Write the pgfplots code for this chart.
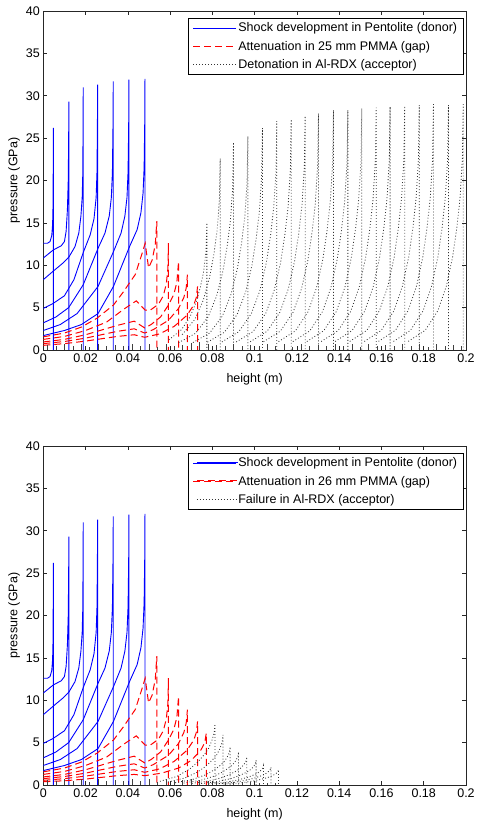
\documentclass[border=0pt]{standalone}
\usepackage{fontspec}
\setmainfont{Liberation Sans}
\usepackage{pgfplots}
\pgfplotsset{compat=1.18}

\newcommand{\mfont}{\fontsize{12.5bp}{15bp}\selectfont}

\pgfplotsset{
    donorL/.style={color=blue, line width=0.9bp},
    gapL/.style={color=red, line width=1bp, dash pattern=on 7bp off 4bp},
    accL/.style={color=black!80, line width=0.8bp, dash pattern=on 0.9bp off 2.1bp},
    donor/.style={donorL, forget plot},
    gap/.style={gapL, forget plot},
    acc/.style={accL, forget plot},
    resid/.style={ycomb, color=black!75, line width=0.6bp, forget plot},
    mlaxis/.style={
        scale only axis,
        width=422.7bp, height=339bp,
        xmin=0, xmax=0.2, ymin=0, ymax=40,
        xtick={0,0.02,0.04,0.06,0.08,0.1,0.12,0.14,0.16,0.18,0.2},
        ytick={0,5,10,15,20,25,30,35,40},
        scaled x ticks=false,
        xticklabel style={/pgf/number format/fixed, /pgf/number format/precision=2},
        /pgf/number format/assume math mode=true,
        tick label style={font=\mfont},
        label style={font=\mfont},
        tick align=inside,
        major tick length=4bp,
        axis line style={black!85, line width=0.5bp},
        every tick/.style={black!85, line width=0.5bp},
        legend style={
            at={(axis description cs:0.993,0.979)}, anchor=north east,
            draw=black, line width=0.5bp, fill=white,
            font=\mfont, inner xsep=4bp, inner ysep=0.5bp,
            nodes={inner xsep=1.6bp, inner ysep=3.9bp},
            cells={anchor=west}
        },
        legend image code/.code={\draw[#1] (0bp,0bp) -- (43bp,0bp);},
        clip=true
    },
    labelled/.style={
        xlabel={height (m)},
        ylabel={pressure (GPa)},
        xlabel style={at={(axis description cs:0.5,-0.085)}, anchor=center},
        ylabel style={at={(axis description cs:-0.069,0.5)}, anchor=center}
    }
}

% pressure profiles in the pentolite donor (blue)
\newcommand{\donorcurves}{%
\addplot[donorL] coordinates {(0,12.6)(0.002,12.6)(0.0032,12.8)(0.004,13.5)(0.0044,14.8)(0.0046,17)(0.0047,21.5)(0.0048,26.2)(0.0048,0)};
\addplot[donor] coordinates {(0,10.85)(0.0047,11.8)(0.0085,12.3)(0.0100,12.8)(0.0108,14)(0.0114,16.5)(0.0118,20)(0.0120,25)(0.0121,29.3)(0.0121,0)};
\addplot[donor] coordinates {(0,8.3)(0.0047,9.3)(0.0095,10.3)(0.0122,11.0)(0.015,12.2)(0.0168,13.8)(0.0178,15.8)(0.0184,18)(0.0187,21)(0.0188,26)(0.0189,31)(0.0189,0)};
\addplot[donor] coordinates {(0,4.9)(0.0047,5.5)(0.0100,6.4)(0.0145,8.3)(0.0189,11.5)(0.0222,13.6)(0.0240,15.5)(0.0250,18)(0.0254,21)(0.0256,26.2)(0.0257,31.3)(0.0257,0)};
\addplot[donor] coordinates {(0,3.2)(0.006,3.9)(0.012,5.0)(0.0189,7.7)(0.0259,12.0)(0.0292,13.8)(0.0312,15.8)(0.0322,18)(0.0327,21)(0.0330,27)(0.0331,31.7)(0.0331,0)};
\addplot[donor] coordinates {(0,2.3)(0.008,3.0)(0.016,4.3)(0.0259,7.5)(0.0332,11.6)(0.0368,13.8)(0.0386,15.8)(0.0396,18)(0.0401,21)(0.0404,26.5)(0.0405,31.9)(0.0405,0)};
\addplot[donor] coordinates {(0,1.7)(0.01,2.3)(0.018,3.0)(0.0259,4.3)(0.0332,7.5)(0.0408,12.2)(0.0444,14.2)(0.0462,16.2)(0.0472,18.5)(0.0477,21.5)(0.0480,27)(0.0481,32)(0.0481,0)};
}

% pressure profiles once the shock is in the PMMA gap (red)
\newcommand{\gapcurves}{%
\addplot[gapL] coordinates {(0,1.55)(0.01,2.0)(0.018,2.7)(0.0254,3.75)(0.0332,5.3)(0.038,6.9)(0.0435,8.9)(0.0465,11.2)(0.0482,12.6)(0.0498,9.7)(0.0515,10.6)(0.0530,12.5)(0.0537,15.2)(0.0537,0)};
\addplot[gap] coordinates {(0,1.25)(0.01,1.6)(0.02,2.3)(0.03,3.3)(0.038,4.8)(0.044,5.8)(0.0482,4.7)(0.0506,4.7)(0.0545,5.4)(0.0568,6.4)(0.0582,7.8)(0.0589,9.5)(0.0592,12.6)(0.0592,0)};
\addplot[gap] coordinates {(0,0.95)(0.01,1.25)(0.02,1.8)(0.035,2.9)(0.043,3.4)(0.048,2.6)(0.051,3.0)(0.0555,3.9)(0.0592,5.3)(0.0618,6.6)(0.0632,8.0)(0.064,10.45)(0.064,0)};
\addplot[gap] coordinates {(0,0.75)(0.01,1.0)(0.02,1.4)(0.035,2.2)(0.043,2.5)(0.048,2.0)(0.052,2.4)(0.0592,3.5)(0.064,4.9)(0.0665,6.2)(0.0676,7.3)(0.0682,8.9)(0.0682,0)};
\addplot[gap] coordinates {(0,0.55)(0.01,0.75)(0.02,1.05)(0.035,1.6)(0.043,1.8)(0.048,1.5)(0.055,1.9)(0.062,2.8)(0.068,4.1)(0.0712,5.3)(0.0724,6.2)(0.073,7.5)(0.073,0)};
}

\begin{document}
\begin{tikzpicture}
\useasboundingbox (0,0) rectangle (477bp,823bp);

%================ upper panel: 25 mm gap, detonation ================
\begin{axis}[mlaxis, labelled, at={(43.3bp,473bp)}, anchor=south west]
\donorcurves
\gapcurves

\addplot[accL] coordinates {(0.0594,1.2)(0.0654,2.4)(0.0694,3.9)(0.0724,5.7)(0.0744,7.5)(0.0759,9.3)(0.0770,11.7)(0.0774,15.0)(0.0774,0)};
\addplot[acc] coordinates {(0.0657,1.81)(0.0717,3.62)(0.0757,5.88)(0.0787,8.59)(0.0807,11.3)(0.0822,14.01)(0.0833,17.63)(0.0837,22.6)(0.0837,0)};
\addplot[acc] coordinates {(0.064,0.86)(0.072,1.96)(0.078,3.92)(0.082,6.37)(0.085,9.31)(0.087,12.25)(0.0885,15.19)(0.0896,19.11)(0.0900,24.5)(0.0900,0)};
\addplot[acc] coordinates {(0.0708,0.88)(0.0788,2.02)(0.0848,4.03)(0.0888,6.55)(0.0918,9.58)(0.0938,12.6)(0.0953,15.62)(0.0964,19.66)(0.0968,25.2)(0.0968,0)};
\addplot[acc] coordinates {(0.0777,0.92)(0.0857,2.10)(0.0917,4.19)(0.0957,6.81)(0.0987,9.96)(0.1007,13.1)(0.1022,16.24)(0.1033,20.44)(0.1037,26.2)(0.1037,0)};
\addplot[acc] coordinates {(0.0845,0.95)(0.0925,2.16)(0.0985,4.32)(0.1025,7.02)(0.1055,10.26)(0.1075,13.5)(0.1090,16.74)(0.1101,21.06)(0.1105,27.0)(0.1105,0)};
\addplot[acc] coordinates {(0.0913,0.95)(0.0993,2.18)(0.1053,4.35)(0.1093,7.07)(0.1123,10.34)(0.1143,13.6)(0.1158,16.86)(0.1169,21.22)(0.1173,27.2)(0.1173,0)};
\addplot[acc] coordinates {(0.0979,0.97)(0.1059,2.21)(0.1119,4.42)(0.1159,7.18)(0.1189,10.49)(0.1209,13.8)(0.1224,17.11)(0.1235,21.53)(0.1239,27.6)(0.1239,0)};
\addplot[acc] coordinates {(0.1042,0.98)(0.1122,2.23)(0.1182,4.46)(0.1222,7.25)(0.1252,10.6)(0.1272,13.95)(0.1287,17.3)(0.1298,21.76)(0.1302,27.9)(0.1302,0)};
\addplot[acc] coordinates {(0.1113,0.99)(0.1193,2.26)(0.1253,4.53)(0.1293,7.36)(0.1323,10.75)(0.1343,14.15)(0.1358,17.55)(0.1369,22.07)(0.1373,28.3)(0.1373,0)};
\addplot[acc] coordinates {(0.1181,0.99)(0.1261,2.26)(0.1321,4.53)(0.1361,7.36)(0.1391,10.75)(0.1411,14.15)(0.1426,17.55)(0.1437,22.07)(0.1441,28.3)(0.1441,0)};
\addplot[acc] coordinates {(0.1247,1.0)(0.1327,2.28)(0.1387,4.56)(0.1427,7.41)(0.1457,10.83)(0.1477,14.25)(0.1492,17.67)(0.1503,22.23)(0.1507,28.5)(0.1507,0)};
\addplot[acc] coordinates {(0.1315,1.0)(0.1395,2.29)(0.1455,4.58)(0.1495,7.44)(0.1525,10.87)(0.1545,14.3)(0.1560,17.73)(0.1571,22.31)(0.1575,28.6)(0.1575,0)};
\addplot[acc] coordinates {(0.1381,1.0)(0.1461,2.3)(0.1521,4.59)(0.1561,7.46)(0.1591,10.91)(0.1611,14.35)(0.1626,17.79)(0.1637,22.39)(0.1641,28.7)(0.1641,0)};
\addplot[acc] coordinates {(0.1450,1.01)(0.1530,2.3)(0.1590,4.61)(0.1630,7.49)(0.1660,10.94)(0.1680,14.4)(0.1695,17.86)(0.1706,22.46)(0.1710,28.8)(0.1710,0)};
\addplot[acc] coordinates {(0.1519,1.01)(0.1599,2.31)(0.1659,4.62)(0.1699,7.51)(0.1729,10.98)(0.1749,14.45)(0.1764,17.92)(0.1775,22.54)(0.1779,28.9)(0.1779,0)};
\addplot[acc] coordinates {(0.1586,1.02)(0.1666,2.32)(0.1726,4.64)(0.1766,7.54)(0.1796,11.02)(0.1816,14.5)(0.1831,17.98)(0.1842,22.62)(0.1846,29.0)(0.1846,0)};
\addplot[acc] coordinates {(0.1657,1.01)(0.1737,2.31)(0.1797,4.62)(0.1837,7.51)(0.1867,10.98)(0.1887,14.45)(0.1902,17.92)(0.1913,22.54)(0.1917,28.9)(0.1917,0)};
\addplot[acc] coordinates {(0.1727,1.02)(0.1807,2.32)(0.1867,4.64)(0.1907,7.54)(0.1937,11.02)(0.1957,14.5)(0.1972,17.98)(0.1983,22.62)(0.1987,29.0)(0.1987,0)};

\addplot[resid] coordinates {
 (0.002,0.6)(0.006,0.45)(0.010,0.7)(0.014,0.5)(0.018,0.65)(0.022,0.4)(0.026,0.7)(0.030,0.5)
 (0.034,0.6)(0.038,0.45)(0.042,0.7)(0.046,0.5)(0.050,0.65)(0.054,0.4)(0.058,0.7)(0.062,0.5)
 (0.066,0.6)(0.070,0.8)(0.074,0.9)(0.078,0.7)(0.082,0.6)(0.086,0.5)(0.090,0.7)(0.094,0.5)
 (0.098,0.6)(0.102,0.45)(0.106,0.7)(0.110,0.5)(0.114,0.65)(0.118,0.4)(0.122,0.7)(0.126,0.5)
 (0.130,0.6)(0.134,0.45)(0.138,0.7)(0.142,0.5)(0.146,0.65)(0.150,0.4)(0.154,0.7)(0.158,0.5)
 (0.162,0.6)(0.166,0.45)(0.170,0.7)(0.174,0.5)(0.178,0.65)(0.182,0.4)(0.186,0.7)(0.190,0.5)
 (0.194,0.6)(0.198,0.45)};

\addlegendentry{Shock development in Pentolite (donor)}
\addlegendentry{Attenuation in 25 mm PMMA (gap)}
\addlegendentry{Detonation in Al-RDX (acceptor)}
\end{axis}

%================ lower panel: 26 mm gap, failure ================
\begin{axis}[mlaxis, labelled, at={(43.3bp,38bp)}, anchor=south west]
\donorcurves
\gapcurves
\addplot[gap] coordinates {(0,0.38)(0.01,0.5)(0.02,0.7)(0.035,1.1)(0.043,1.25)(0.048,1.1)(0.056,1.4)(0.064,2.0)(0.070,2.9)(0.0745,4.1)(0.0764,5.0)(0.0771,6.1)(0.0771,0)};

\addplot[acc] coordinates {(0.0552,0.43)(0.0632,1.01)(0.0692,1.87)(0.0732,2.74)(0.0762,3.6)(0.0782,4.32)(0.0797,5.18)(0.0808,6.12)(0.0812,7.2)(0.0812,0)};
\addplot[acc] coordinates {(0.0590,0.35)(0.0670,0.83)(0.0730,1.53)(0.0770,2.24)(0.0800,2.95)(0.0820,3.54)(0.0835,4.25)(0.0846,5.02)(0.0850,5.9)(0.0850,0)};
\addplot[acc] coordinates {(0.0624,0.27)(0.0704,0.63)(0.0764,1.17)(0.0804,1.71)(0.0834,2.25)(0.0854,2.7)(0.0869,3.24)(0.0880,3.83)(0.0884,4.5)(0.0884,0)};
\addplot[acc] coordinates {(0.0664,0.23)(0.0744,0.55)(0.0804,1.01)(0.0844,1.48)(0.0874,1.95)(0.0894,2.34)(0.0909,2.81)(0.0920,3.32)(0.0924,3.9)(0.0924,0)};
\addplot[acc] coordinates {(0.0703,0.2)(0.0783,0.46)(0.0843,0.86)(0.0883,1.25)(0.0913,1.65)(0.0933,1.98)(0.0948,2.38)(0.0959,2.81)(0.0963,3.3)(0.0963,0)};
\addplot[acc] coordinates {(0.0747,0.17)(0.0827,0.41)(0.0887,0.75)(0.0927,1.1)(0.0957,1.45)(0.0977,1.74)(0.0992,2.09)(0.1003,2.47)(0.1007,2.9)(0.1007,0)};
\addplot[acc] coordinates {(0.0782,0.14)(0.0862,0.32)(0.0922,0.6)(0.0962,0.87)(0.0992,1.15)(0.1012,1.38)(0.1027,1.66)(0.1038,1.96)(0.1042,2.3)(0.1042,0)};
\addplot[acc] coordinates {(0.0817,0.13)(0.0897,0.29)(0.0957,0.55)(0.0997,0.8)(0.1027,1.05)(0.1047,1.26)(0.1062,1.51)(0.1073,1.79)(0.1077,2.1)(0.1077,0)};
\addplot[acc] coordinates {(0.0853,0.11)(0.0933,0.25)(0.0993,0.47)(0.1033,0.68)(0.1063,0.9)(0.1083,1.08)(0.1098,1.3)(0.1109,1.53)(0.1113,1.8)(0.1113,0)};

\addplot[resid] coordinates {
 (0.002,0.6)(0.006,0.45)(0.010,0.7)(0.014,0.5)(0.018,0.65)(0.022,0.4)(0.026,0.7)(0.030,0.5)
 (0.034,0.6)(0.038,0.45)(0.042,0.7)(0.046,0.5)(0.050,0.65)(0.054,0.4)(0.058,0.7)(0.062,0.5)
 (0.066,0.6)(0.070,0.7)(0.074,0.6)(0.078,0.5)(0.082,0.45)(0.086,0.4)(0.090,0.35)(0.094,0.3)
 (0.098,0.3)(0.102,0.25)(0.106,0.25)(0.110,0.2)};

\addlegendimage{dash pattern=on 0bp off 100bp, opacity=0}
\addlegendentry{Shock development in Pentolite (donor)}
\addlegendimage{dash pattern=on 0bp off 100bp, opacity=0}
\addlegendentry{Attenuation in 26 mm PMMA (gap)}
\addlegendimage{dash pattern=on 0bp off 100bp, opacity=0}
\addlegendentry{Failure in Al-RDX (acceptor)}
\end{axis}

% line samples of the lower legend, plotted over the legend box
\begin{axis}[mlaxis, hide axis, at={(43.3bp,38bp)}, anchor=south west]
\addplot[donor] coordinates {(0.0727,38.05)(0.0920,38.05)};
\addplot[gap] coordinates {(0.0727,35.9)(0.0920,35.9)};
\addplot[acc] coordinates {(0.0727,33.75)(0.0920,33.75)};
\end{axis}
\end{tikzpicture}
\end{document}
